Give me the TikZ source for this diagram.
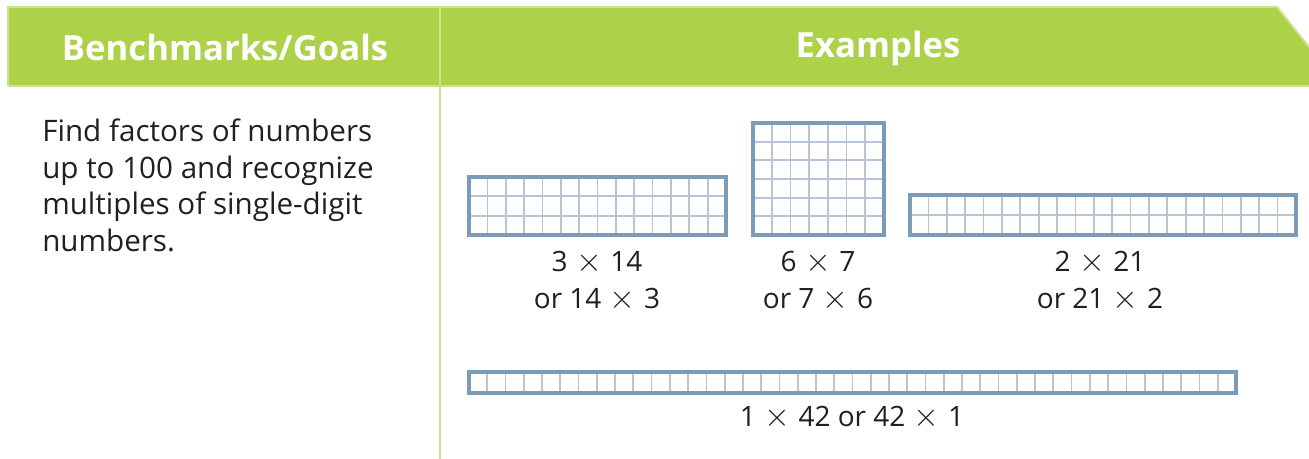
\documentclass[tikz,border=0pt]{standalone}
\usepackage{fontspec}
\setmainfont{Open Sans}
\definecolor{hdrgreen}{HTML}{ADD148}
\definecolor{hdredge}{HTML}{CBE28F}
\definecolor{frameblue}{HTML}{7B9CB8}
\definecolor{lineblue}{HTML}{B6C6D7}
\definecolor{inkgray}{HTML}{231F20}
\newcommand\tms{\hspace{0.3em}{\fontsize{28}{28}\selectfont$\times$}\hspace{0.3em}}
\tikzset{
  hdrtext/.style={text=white, font=\fontsize{26}{30}\selectfont\bfseries, inner sep=0pt},
  bodytext/.style={text=inkgray, font=\fontsize{22.2}{27.4}\selectfont, inner sep=0pt, align=left},
  lbl/.style={text=inkgray, font=\fontsize{21}{24}\selectfont, inner sep=0pt},
  gridline/.style={draw=lineblue, line width=1.3pt},
  gridframe/.style={draw=frameblue, line width=3pt},
  edgeline/.style={draw=hdredge, line width=1.5pt}
}
\newcommand\cellgrid[6]{% x0 y0 cols rows cw ch
  \begin{scope}[shift={(#1,#2)}]
    \pgfmathtruncatemacro\lastc{#3-1}
    \foreach \i in {1,...,\lastc} \draw[gridline] (\i*#5,0) -- (\i*#5,#4*#6);
    \ifnum#4>1
      \pgfmathtruncatemacro\lastr{#4-1}
      \foreach \j in {1,...,\lastr} \draw[gridline] (0,\j*#6) -- (#3*#5,\j*#6);
    \fi
    \draw[gridframe] (0,0) rectangle (#3*#5,#4*#6);
  \end{scope}}
\begin{document}
\begin{tikzpicture}[x=0.75pt,y=-0.75pt]
\useasboundingbox (0,0) rectangle (1309,459);
% header band
\fill[hdrgreen] (8,7) -- (1277,7) -- (1309,47) -- (1309,86) -- (8,86) -- cycle;
\draw[edgeline] (8,86) -- (8,7) -- (1277,7) -- (1309,47);
\draw[edgeline] (8,86) -- (1309,86);
\draw[edgeline] (440,7) -- (440,459);
\node[hdrtext] (h1) at (225,48) {Benchmarks/Goals};
\node[hdrtext] (h2) at (878,48) {Examples};
% goal text
\node[bodytext, anchor=north west] (goal) at (42,119) {Find factors of numbers\\up to 100 and recognize\\multiples of single-digit\\numbers.};
% grids
\cellgrid{469}{177}{14}{3}{18.36}{19.33}
\cellgrid{753}{123}{7}{6}{18.71}{18.67}
\cellgrid{910}{195}{21}{2}{18.38}{20}
\cellgrid{469}{372}{42}{1}{18.26}{21}
% labels
\node[lbl] (l1a) at (597,263) {3\tms 14};
\node[lbl] (l1b) at (597,300) {or 14\tms 3};
\node[lbl] (l2a) at (818,263) {6\tms 7};
\node[lbl] (l2b) at (818,300) {or 7\tms 6};
\node[lbl] (l3a) at (1100,263) {2\tms 21};
\node[lbl] (l3b) at (1100,300) {or 21\tms 2};
\node[lbl] (l4) at (852,418) {1\tms 42 or 42\tms 1};
\end{tikzpicture}
\end{document}
